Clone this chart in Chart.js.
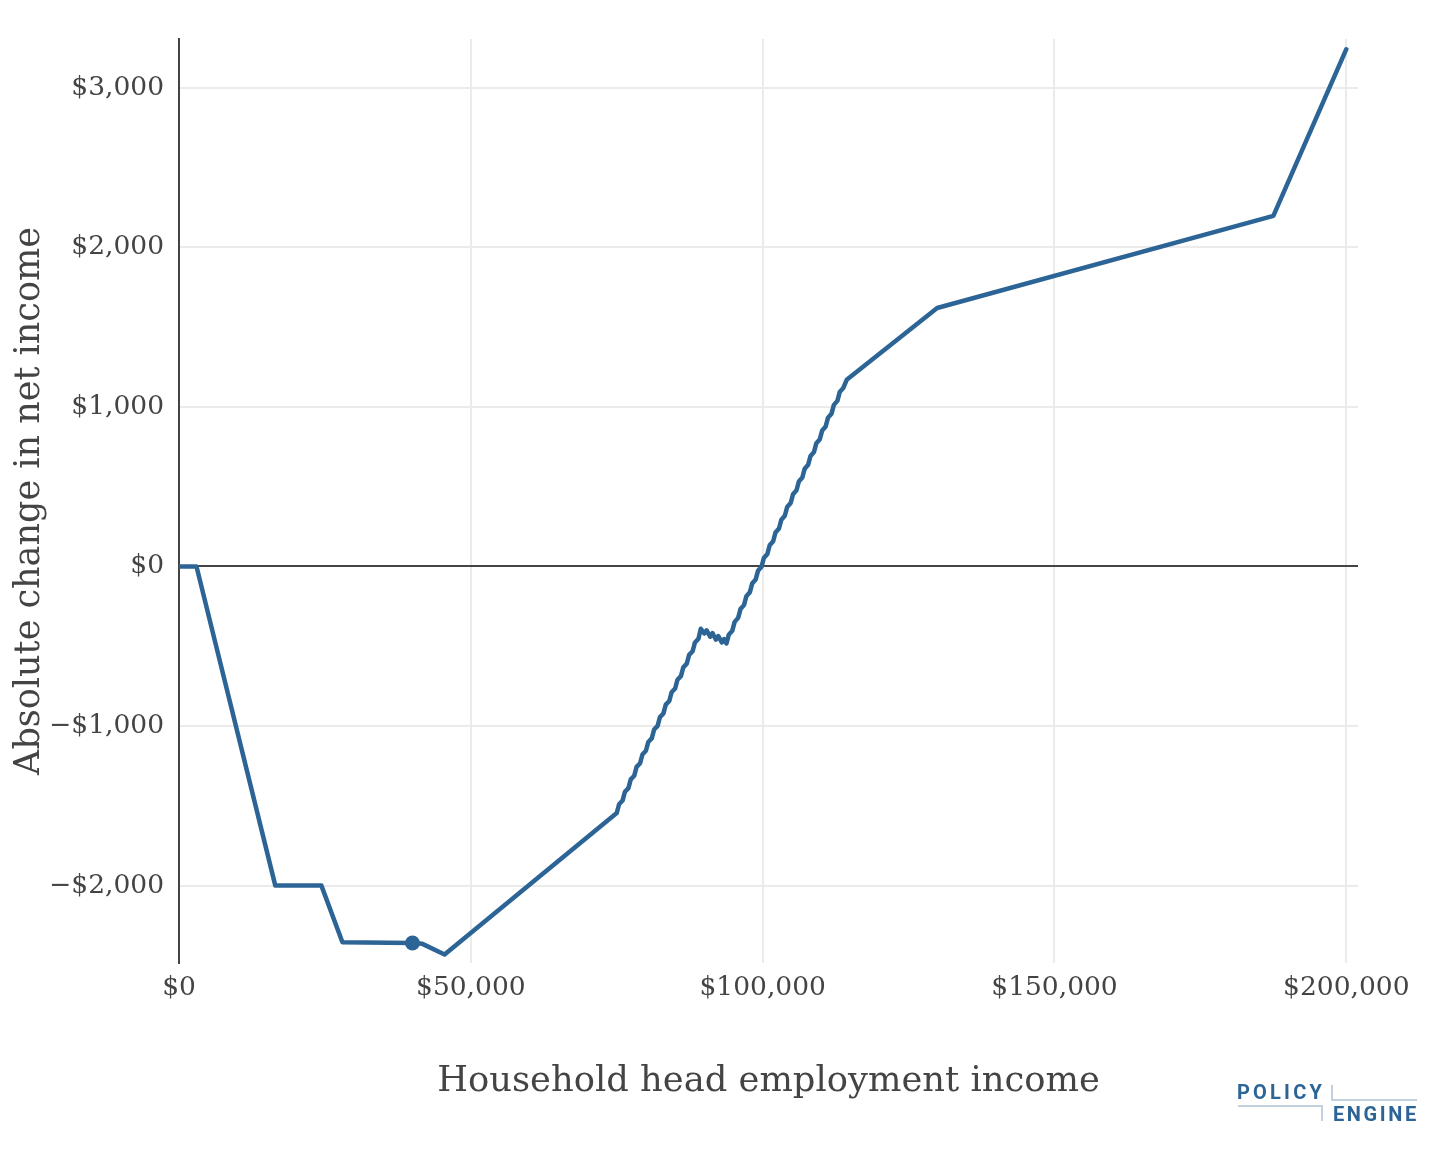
<!DOCTYPE html>
<html>
<head>
<meta charset="utf-8">
<script src="https://cdn.jsdelivr.net/npm/chart.js@4.4.1/dist/chart.umd.min.js"></script>
<style>
  html, body { margin: 0; padding: 0; background: #fff; }
  #wrap { position: relative; width: 1456px; height: 1152px; }
  #c { position: absolute; left: 0; top: 0; }
  .logo { position: absolute; font-family: Roboto, "DejaVu Sans", sans-serif; font-weight: 700; color: #2C6496; font-size: 20px; line-height: 1; }
  .ln { position: absolute; background: #C3D0DD; }
</style>
</head>
<body>
<div id="wrap">
  <canvas id="c" width="1456" height="1152"></canvas>
  <div class="logo" style="left:1237px; top:1082px; letter-spacing:3.2px;">POLICY</div>
  <div class="logo" style="left:1333px; top:1104px; letter-spacing:2.6px;">ENGINE</div>
  <div class="ln" style="left:1238px; top:1105px; width:85px; height:2px;"></div>
  <div class="ln" style="left:1321px; top:1105px; width:2px; height:16px;"></div>
  <div class="ln" style="left:1331px; top:1085px; width:2px; height:16px;"></div>
  <div class="ln" style="left:1331px; top:1099px; width:86px; height:2px;"></div>
</div>
<script>
// Household head employment income ($)
const incomeValues = [
  0, 3000, 16500, 24400, 28000, 40000, 41700, 45500,
  75000, 75400, 76000, 76400, 77000, 77400, 78000, 78400, 79000, 79400,
  80000, 80400, 81000, 81400, 82000, 82400, 83000, 83400, 84000, 84400,
  85000, 85400, 86000, 86400, 87000, 87400, 88000, 88400, 89000, 89400,
  90000, 90400, 91000, 91400, 92000, 92400, 93000, 93400, 93800,
  94200, 94800, 95200, 95800, 96200, 96800, 97200, 97800, 98200, 98800,
  99200, 99800, 100200, 100800, 101200, 101800, 102200, 102800, 103200, 103800,
  104200, 104800, 105200, 105800, 106200, 106800, 107200, 107800, 108200, 108800,
  109200, 109800, 110200, 110800, 111200, 111800, 112200, 112800, 113200, 113800,
  114400, 129900, 187500, 200000
];
// Absolute change in net income ($)
const netChangeValues = [
  0, 0, -2000, -2000, -2355, -2360, -2365, -2432,
  -1545, -1490, -1467, -1412, -1389, -1334, -1311, -1256, -1233, -1178,
  -1155, -1100, -1077, -1022, -999, -944, -921, -866, -843, -788,
  -765, -710, -687, -632, -609, -554, -531, -476, -453, -390,
  -420, -400, -440, -418, -458, -436, -476, -455, -482,
  -427, -402, -347, -322, -267, -242, -187, -162, -107, -82,
  -27, -2, 53, 78, 133, 158, 213, 238, 293, 318,
  373, 398, 453, 478, 533, 558, 613, 638, 693, 718,
  773, 798, 853, 878, 933, 958, 1013, 1038, 1093, 1118,
  1170, 1620, 2197, 3242
];
// Highlighted household
const markerIncome = [40000];
const markerChange = [-2360];

const xTickValues = [0, 50000, 100000, 150000, 200000];
const xTickLabels = ['$0', '$50,000', '$100,000', '$150,000', '$200,000'];
const yTickValues = [-2000, -1000, 0, 1000, 2000, 3000];
const yTickLabels = ['\u2212$2,000', '\u2212$1,000', '$0', '$1,000', '$2,000', '$3,000'];

const lineData = incomeValues.map((x, i) => ({ x: x, y: netChangeValues[i] }));
const markerData = markerIncome.map((x, i) => ({ x: x, y: markerChange[i] }));

const BLUE = '#2C6496';
const TEXT = '#444444';
const SERIF = '"DejaVu Serif", "Liberation Serif", serif';

new Chart(document.getElementById('c'), {
  type: 'line',
  data: {
    datasets: [
      { data: lineData, borderColor: BLUE, backgroundColor: BLUE, borderWidth: 4.5,
        pointRadius: 0, tension: 0, borderJoinStyle: 'round', borderCapStyle: 'round', order: 2 },
      { data: markerData, borderColor: BLUE, backgroundColor: BLUE, showLine: false,
        pointRadius: 7.5, pointBorderWidth: 0, order: 1 }
    ]
  },
  options: {
    responsive: false,
    animation: false,
    devicePixelRatio: 1,
    layout: { padding: { left: 0, right: 98, top: 39, bottom: 0 } },
    plugins: { legend: { display: false }, tooltip: { enabled: false } },
    scales: {
      x: {
        type: 'linear',
        min: 0, max: 202000,
        afterBuildTicks: s => { s.ticks = xTickValues.map(v => ({ value: v })); },
        afterFit: s => { s.height = 189; },
        ticks: {
          callback: (v, i) => xTickLabels[i],
          color: TEXT, font: { family: SERIF, size: 26.5 }, padding: 9, maxRotation: 0, autoSkip: false
        },
        grid: { color: ctx => (ctx.tick && ctx.tick.value === 0) ? 'rgba(0,0,0,0)' : '#ebebeb', lineWidth: 2, drawTicks: false },
        border: { display: false },
        title: {
          display: true, text: 'Household head employment income', color: TEXT,
          font: { family: SERIF, size: 35.3 }, padding: { top: 0, bottom: 49 }
        }
      },
      y: {
        type: 'linear',
        min: -2485, max: 3306,
        afterBuildTicks: s => { s.ticks = yTickValues.map(v => ({ value: v })); },
        afterFit: s => { s.width = 179; },
        ticks: {
          callback: (v, i) => yTickLabels[i],
          color: TEXT, font: { family: SERIF, size: 26.5 }, padding: 15, autoSkip: false
        },
        grid: {
          color: ctx => (ctx.tick && ctx.tick.value === 0) ? '#444444' : '#ebebeb',
          lineWidth: 2, drawTicks: false
        },
        border: { display: true, color: '#444444', width: 2 },
        title: {
          display: true, text: 'Absolute change in net income', color: TEXT,
          font: { family: SERIF, size: 35 }, padding: { top: 9, bottom: 0 }
        }
      }
    }
  }
});
</script>
</body>
</html>
